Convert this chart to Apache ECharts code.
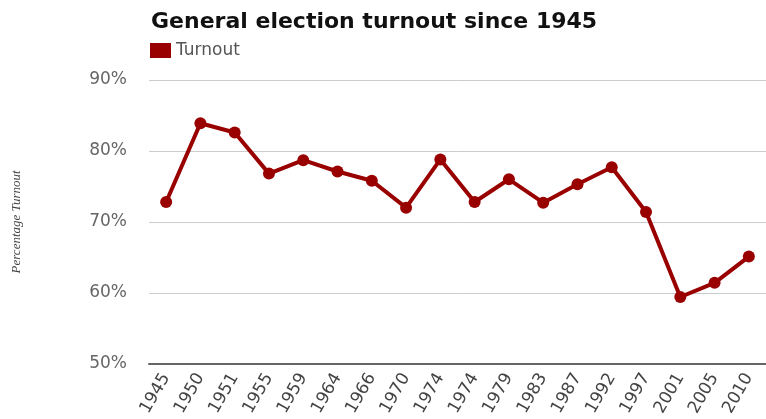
<!DOCTYPE html>
<html><head><meta charset="utf-8">
<script src="https://cdn.jsdelivr.net/npm/echarts@6/dist/echarts.min.js"></script>
<style>html,body{margin:0;padding:0;background:#fff}#c{width:766px;height:419px}</style>
</head><body><div id="c"></div>
<script>
const categories = ['1945','1950','1951','1955','1959','1964','1966','1970','1974','1974','1979','1983','1987','1992','1997','2001','2005','2010'];
const turnout = [72.8,83.9,82.6,76.8,78.7,77.1,75.8,72.0,78.8,72.8,76.0,72.7,75.3,77.7,71.4,59.4,61.4,65.1];
const yTicks = [50,60,70,80,90];

const chart = echarts.init(document.getElementById('c'));
chart.setOption({
  animation:false,
  title:{text:'General election turnout since 1945',left:146,top:6,
    textStyle:{fontFamily:'DejaVu Sans',fontWeight:'bold',fontSize:22,color:'#111'}},
  legend:{left:145,top:37,itemWidth:21,itemHeight:15,icon:'rect',itemGap:10,
    textStyle:{fontFamily:'DejaVu Sans',fontSize:17,color:'#555'},data:['Turnout']},
  grid:{left:149,top:80,width:626,height:297,containLabel:false},
  xAxis:{type:'category',data:categories,boundaryGap:true,
    axisLine:{lineStyle:{color:'#666',width:2}},axisTick:{show:false},
    axisLabel:{rotate:60,fontFamily:'DejaVu Sans',fontSize:17,color:'#444',margin:11,interval:0}},
  yAxis:{type:'value',min:yTicks[0],max:yTicks[yTicks.length-1],interval:10,
    name:'Percentage Turnout',nameLocation:'middle',nameGap:126,
    nameTextStyle:{fontFamily:'Liberation Serif',fontStyle:'italic',fontSize:13,color:'#444'},
    axisLine:{show:false},axisTick:{show:false},
    axisLabel:{formatter:v=>v+'%',fontFamily:'DejaVu Sans',fontSize:17,color:'#666',margin:22},
    splitLine:{lineStyle:{color:'#ccc',width:1}}},
  series:[{name:'Turnout',type:'line',data:turnout,
    itemStyle:{color:'#990000'},lineStyle:{color:'#990000',width:4},
    symbol:'circle',symbolSize:12,showSymbol:true}]
});
</script></body></html>
